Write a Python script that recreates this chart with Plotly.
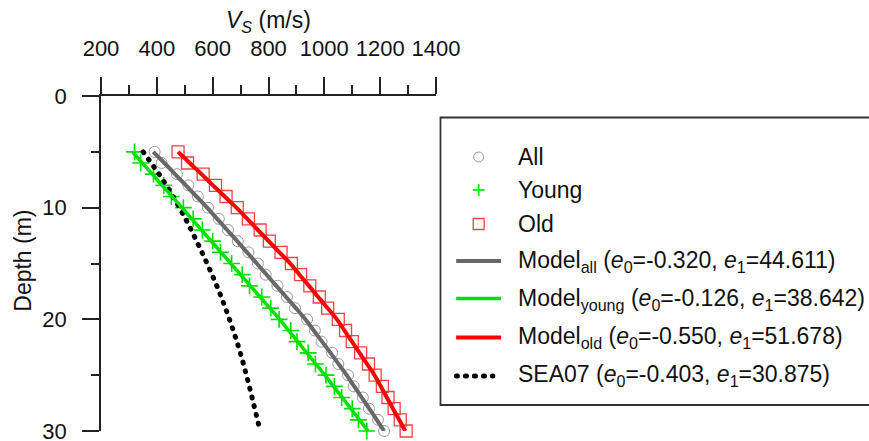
import plotly.graph_objects as go

# ---------------- data ----------------
depth = list(range(5, 31))

vs_all = [392, 417, 472, 513, 547, 583, 622, 655, 690, 728, 762, 790, 832, 866, 895,
          938, 966, 990, 1028, 1050, 1085, 1105, 1138, 1160, 1192, 1214]
vs_young = [320, 342, 388, 425, 452, 495, 530, 563, 600, 628, 668, 706, 732, 776, 808,
            838, 880, 902, 942, 968, 1006, 1036, 1062, 1100, 1122, 1152]
vs_old = [476, 510, 566, 610, 648, 688, 728, 770, 803, 845, 882, 915, 948, 982, 1012,
          1050, 1076, 1100, 1130, 1158, 1182, 1208, 1228, 1250, 1272, 1293]

model_all = [387, 427, 465, 504, 542, 580, 616, 652, 688, 723, 758, 793, 828, 863, 898,
             932, 962, 992, 1022, 1051, 1080, 1107, 1134, 1161, 1188, 1214]
model_young = [313, 348, 384, 419, 455, 490, 525, 560, 595, 630, 665, 700, 735, 770, 805,
               840, 872, 905, 937, 970, 1002, 1033, 1064, 1095, 1126, 1157]
model_old = [476, 518, 560, 601, 643, 685, 724, 762, 801, 839, 878, 911, 945, 978, 1012,
             1045, 1072, 1099, 1126, 1153, 1180, 1202, 1224, 1246, 1268, 1290]

sea07_depth = [5, 7.5, 10, 12.5, 15, 17.5, 20, 22.5, 25, 27.5, 30]
sea07_vs = [351, 421, 481, 533, 580, 623, 660, 693, 721, 746, 770]

x_ticks = [200, 400, 600, 800, 1000, 1200, 1400]
y_ticks = [0, 10, 20, 30]

legend_labels = [
    "All",
    "Young",
    "Old",
    "Model<sub>all</sub> (<i>e</i><sub>0</sub>=-0.320, <i>e</i><sub>1</sub>=44.611)",
    "Model<sub>young</sub> (<i>e</i><sub>0</sub>=-0.126, <i>e</i><sub>1</sub>=38.642)",
    "Model<sub>old</sub> (<i>e</i><sub>0</sub>=-0.550, <i>e</i><sub>1</sub>=51.678)",
    "SEA07 (<i>e</i><sub>0</sub>=-0.403, <i>e</i><sub>1</sub>=30.875)",
]

# ---------------- styling ----------------
FONT = "Liberation Sans, Arial, sans-serif"
W, H = 869, 441
L, R, T, B = 100.5, 432.5, 96, 10
PW, PH = W - L - R, H - T - B

GRAY_M, GRAY_L = "#9a9a9a", "#686868"
GREEN = "#00e000"
RED_M, RED_L = "#ee4444", "#ff0000"
DOT = "1px,8px"


def px(x):
    return (x - L) / PW


def py(y):
    return (H - B - y) / PH


fig = go.Figure()

# markers (drawn under lines)
fig.add_trace(go.Scatter(x=vs_all, y=depth, mode="markers", cliponaxis=False,
                         marker=dict(symbol="circle-open", size=11, color=GRAY_M,
                                     line=dict(width=1, color=GRAY_M))))
fig.add_trace(go.Scatter(x=vs_young, y=depth, mode="markers", cliponaxis=False,
                         marker=dict(symbol="cross-thin-open", size=12, color=GREEN,
                                     line=dict(width=1.6, color=GREEN))))
fig.add_trace(go.Scatter(x=vs_old, y=depth, mode="markers", cliponaxis=False,
                         marker=dict(symbol="square-open", size=12, color=RED_M,
                                     line=dict(width=1.3, color=RED_M))))

# model lines
fig.add_trace(go.Scatter(x=sea07_vs, y=sea07_depth, mode="lines",
                         line=dict(color="black", width=5, dash=DOT, shape="spline")))
fig.add_trace(go.Scatter(x=model_young, y=depth, mode="lines",
                         line=dict(color=GREEN, width=3.5, shape="spline")))
fig.add_trace(go.Scatter(x=model_all, y=depth, mode="lines",
                         line=dict(color=GRAY_L, width=4, shape="spline")))
fig.add_trace(go.Scatter(x=model_old, y=depth, mode="lines",
                         line=dict(color=RED_L, width=4, shape="spline")))

axis_common = dict(showline=True, linecolor="#222", linewidth=1.5, ticks="outside",
                   ticklen=17, tickwidth=1.5, tickcolor="#222", showgrid=False,
                   zeroline=False, ticklabeloverflow="allow",
                   tickfont=dict(family=FONT, size=22, color="#111"))

fig.update_xaxes(side="top", range=[200, 1400], tickvals=x_ticks,
                 ticktext=[str(v) for v in x_ticks], ticklabelstandoff=12,
                 minor=dict(dtick=100, tick0=200, ticklen=9, tickwidth=1.5,
                            tickcolor="#222", ticks="outside"),
                 **axis_common)
fig.update_yaxes(range=[30, 0], tickvals=y_ticks, ticklabelstandoff=11,
                 minor=dict(dtick=5, tick0=0, ticklen=8, tickwidth=1.5,
                            tickcolor="#222", ticks="outside"),
                 **axis_common)

shapes = []
annotations = []

# axis titles
annotations.append(dict(xref="paper", yref="paper", x=px(268.5), y=py(22),
                        text="<i>V<sub>S</sub></i> (m/s)", showarrow=False,
                        xanchor="center", yanchor="middle",
                        font=dict(family=FONT, size=23, color="#111")))
annotations.append(dict(xref="paper", yref="paper", x=px(22), y=py(261),
                        text="Depth (m)", showarrow=False, textangle=-90,
                        xanchor="center", yanchor="middle",
                        font=dict(family=FONT, size=23, color="#111")))

# legend box
shapes.append(dict(type="rect", xref="paper", yref="paper",
                   x0=px(441), x1=px(900), y0=py(405), y1=py(117.5),
                   line=dict(color="#333", width=1.8), fillcolor="rgba(0,0,0,0)"))

sx = 479.3
# circle
shapes.append(dict(type="circle", xref="paper", yref="paper",
                   x0=px(sx - 5), x1=px(sx + 5), y0=py(157 + 5), y1=py(157 - 5),
                   line=dict(color=GRAY_M, width=1)))
# plus
cy = 190
shapes.append(dict(type="line", xref="paper", yref="paper",
                   x0=px(sx - 6), x1=px(sx + 6), y0=py(cy), y1=py(cy),
                   line=dict(color=GREEN, width=1.6)))
shapes.append(dict(type="line", xref="paper", yref="paper",
                   x0=px(sx), x1=px(sx), y0=py(cy - 6), y1=py(cy + 6),
                   line=dict(color=GREEN, width=1.6)))
# square
cy = 224
shapes.append(dict(type="rect", xref="paper", yref="paper",
                   x0=px(sx - 5.5), x1=px(sx + 5.5), y0=py(cy + 5.5), y1=py(cy - 5.5),
                   line=dict(color=RED_M, width=1.3)))
# line samples
for yy, col, wd in [(261, GRAY_L, 4), (298.5, GREEN, 3.5), (337.5, RED_L, 4)]:
    shapes.append(dict(type="line", xref="paper", yref="paper",
                       x0=px(456.7), x1=px(501.7), y0=py(yy), y1=py(yy),
                       line=dict(color=col, width=wd)))
shapes.append(dict(type="line", xref="paper", yref="paper",
                   x0=px(457), x1=px(493.5), y0=py(376), y1=py(376),
                   line=dict(color="black", width=5, dash=DOT)))

text_centers = [157, 190, 224, 261, 299, 337.5, 375]
for lab, yc in zip(legend_labels, text_centers):
    annotations.append(dict(xref="paper", yref="paper", x=px(517), y=py(yc),
                            text=lab, showarrow=False, xanchor="left",
                            yanchor="middle", align="left",
                            font=dict(family=FONT, size=23, color="#111")))

fig.update_layout(width=W, height=H, margin=dict(l=L, r=R, t=T, b=B, autoexpand=False),
                  paper_bgcolor="white", plot_bgcolor="white", showlegend=False,
                  shapes=shapes, annotations=annotations)

post = """
document.body.style.margin = '0';
document.body.style.overflow = 'hidden';
document.querySelectorAll('path').forEach(function(p){
  var d = p.style.strokeDasharray || '';
  if (d.indexOf('1px') === 0) { p.style.strokeLinecap = 'round'; }
});
"""
fig.write_html("out.html", post_script=post, config={"displayModeBar": False})
